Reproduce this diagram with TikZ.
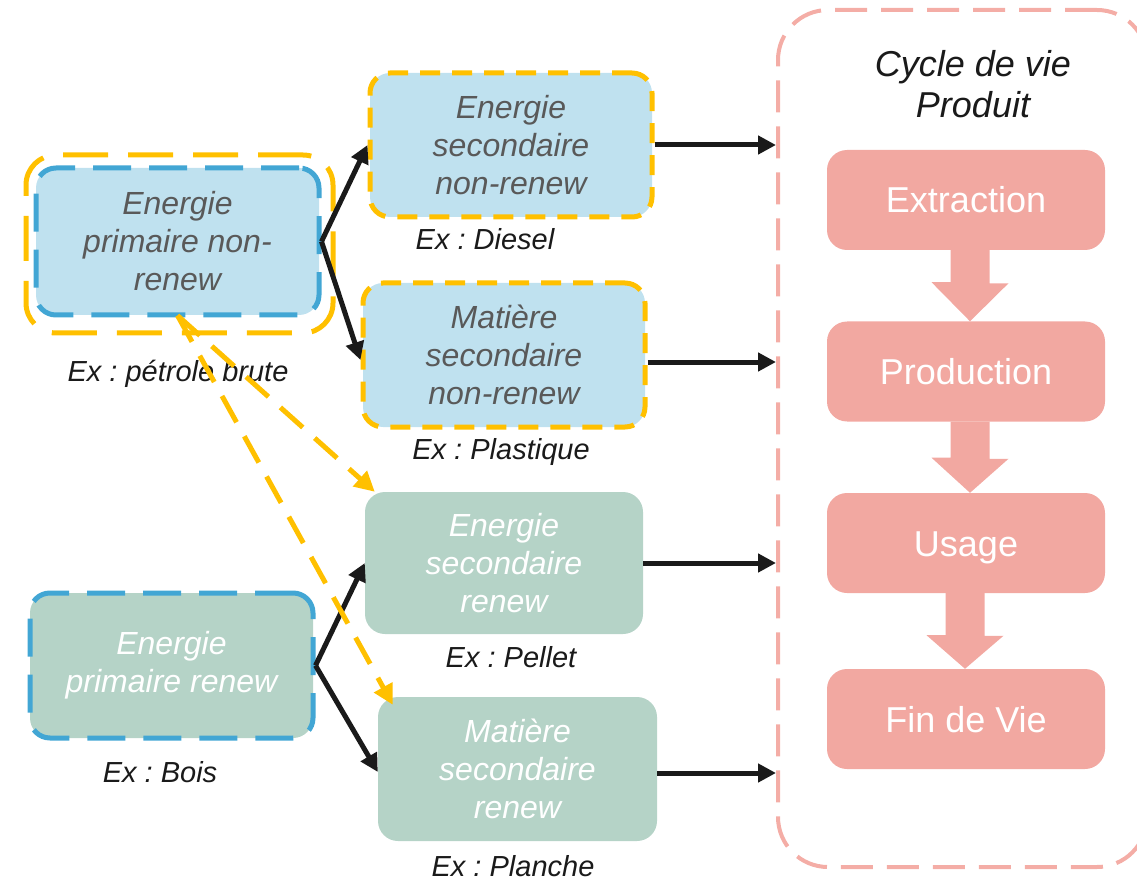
\documentclass[tikz,border=0pt]{standalone}
\usepackage{fontspec}
\setmainfont{Liberation Sans}
\usetikzlibrary{arrows.meta}
\definecolor{bluefill}{HTML}{BFE1EF}
\definecolor{blueline}{HTML}{42A6D4}
\definecolor{yel}{HTML}{FFC000}
\definecolor{greenfill}{HTML}{B5D3C7}
\definecolor{pinkbox}{HTML}{F2A8A1}
\definecolor{pinkline}{HTML}{F4ADA6}
\definecolor{greytext}{HTML}{595959}
\definecolor{ink}{HTML}{1A1A1A}
\frenchspacing
\begin{document}
\begin{tikzpicture}[x=1pt,y=-1pt,
  box/.style={rounded corners=20pt, align=center, inner sep=0pt,
    font=\fontsize{32}{38}\selectfont\itshape},
  nrbox/.style={box, fill=bluefill, text=greytext},
  rbox/.style={box, fill=greenfill, text=white},
  bluedash/.style={draw=blueline, line width=5pt, dash pattern=on 38pt off 18pt},
  yeldash/.style={draw=yel, line width=5pt, dash pattern=on 20pt off 12pt},
  lab/.style={anchor=base, text=ink, inner sep=0pt,
    font=\fontsize{29}{34}\selectfont\itshape},
  pbox/.style={fill=pinkbox, rounded corners=20pt, minimum width=278pt,
    minimum height=100pt, inner sep=0pt, text=white, text height=26pt, text depth=0pt,
    font=\fontsize{36}{40}\selectfont},
  blk/.style={draw=ink, line width=5pt, -{Triangle[length=18pt,width=18pt]}},
  yarr/.style={draw=yel, line width=5pt, dash pattern=on 30pt off 16pt,
    -{Triangle[length=20pt,width=20pt]}},
]
\useasboundingbox (0,0) rectangle (1137,882);

% container
\node[draw=pinkline, line width=4pt, dash pattern=on 32pt off 14pt,
  rounded corners=50pt, minimum width=369pt, minimum height=857pt, inner sep=0pt]
  (cont) at (962.5,438.5) {};
\node[align=center, text=ink, inner sep=0pt,
  font=\fontsize{36}{41}\selectfont\itshape] (title) at (973,84) {Cycle de vie\\Produit};

% life cycle
\node[pbox] (ex) at (966,200) {Extraction};
\node[pbox] (pr) at (966,371.5) {Production};
\node[pbox] (us) at (966,543) {Usage};
\node[pbox] (fv) at (966,719) {Fin de Vie};

\fill[pinkbox] ([xshift=-15.5pt]ex.south) -- ++(0,32) -- ++(-19,0) -- ([xshift=4pt]pr.north)
  -- ++(38.5,-38) -- ++(-19,0) -- ([xshift=23.5pt]ex.south) -- cycle;
\fill[pinkbox] ([xshift=-15.5pt]pr.south) -- ++(0,36) -- ++(-19,0) -- ([xshift=4pt]us.north)
  -- ++(38.5,-34) -- ++(-19,0) -- ([xshift=23.5pt]pr.south) -- cycle;
\fill[pinkbox] ([xshift=-20.5pt]us.south) -- ++(0,42) -- ++(-19,0) -- ([xshift=-1pt]fv.north)
  -- ++(38.5,-33) -- ++(-19,0) -- ([xshift=18.5pt]us.south) -- cycle;

% left part
\node[draw=yel, line width=5pt, dash pattern=on 45pt off 20pt, rounded corners=30pt,
  minimum width=307pt, minimum height=178pt, inner sep=0pt] (Aout) at (179.5,244) {};
\node[nrbox, bluedash, minimum width=283pt, minimum height=147pt] (A) at (177.5,241.5)
  {Energie\\primaire non-\\renew};
\node[nrbox, yeldash, minimum width=282pt, minimum height=144pt] (B) at (511,145)
  {Energie\\secondaire\\non-renew};
\node[nrbox, yeldash, minimum width=282pt, minimum height=144pt] (C) at (504,355)
  {Matière\\secondaire\\non-renew};
\node[rbox, minimum width=278pt, minimum height=142pt] (D) at (504,563)
  {Energie\\secondaire\\renew};
\node[rbox, minimum width=279pt, minimum height=144pt] (E) at (517.5,769)
  {Matière\\secondaire\\renew};
\node[rbox, bluedash, minimum width=283pt, minimum height=145pt] (F) at (171.5,665.5)
  {Energie\\primaire renew};

% labels
\node[lab] (lA) at (178,381) {Ex : pétrole brute};
\node[lab] (lB) at (485,250) {Ex : Diesel};
\node[lab] (lC) at (501,459) {Ex : Plastique};
\node[lab] (lD) at (511,667) {Ex : Pellet};
\node[lab] (lF) at (160,782) {Ex : Bois};
\node[lab] (lE) at (513,876) {Ex : Planche};

% black arrows
\draw[blk] (A.east) -- (B.west);
\draw[blk] (A.east) -- ([yshift=-5pt]C.west);
\draw[blk] (F.east) -- (D.west);
\draw[blk] (F.east) -- ([yshift=-3pt]E.west);
\draw[blk] (B.east) -- (B.east -| cont.west);
\draw[blk] ([yshift=-7pt]C.east) -- ([yshift=-7pt]C.east -| cont.west);
\draw[blk] (D.east) -- (D.east -| cont.west);
\draw[blk] ([yshift=-4pt]E.east) -- ([yshift=-4pt]E.east -| cont.west);

% yellow arrows
\draw[yarr] ([yshift=2pt]A.south) -- ([xshift=10pt]D.north west);
\draw[yarr] ([yshift=2pt]A.south) -- ([xshift=15pt,yshift=-8pt]E.north west);
\end{tikzpicture}
\end{document}
